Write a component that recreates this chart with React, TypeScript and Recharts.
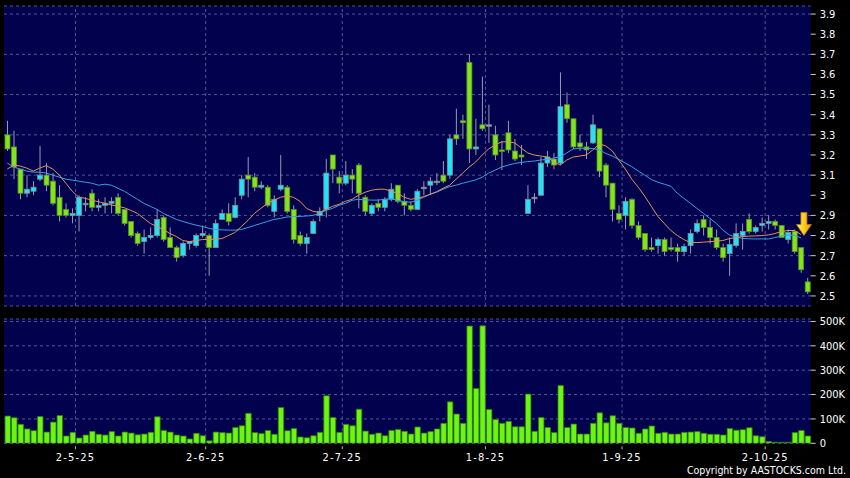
import { ComposedChart, Bar, Line, XAxis, YAxis, CartesianGrid, ReferenceLine, ReferenceDot } from "recharts"

// ---- data (one entry per trading day) ----

const openP = [
    3.30, 3.24, 3.13, 3.01, 3.02, 3.08, 3.10, 3.07, 2.99, 2.93, 2.90, 2.90, 2.96, 3.01, 2.94, 2.95, 2.96, 2.99, 2.93, 2.87,
    2.81, 2.77, 2.79, 2.80, 2.89, 2.79, 2.74, 2.70, 2.76, 2.75, 2.80, 2.80, 2.74, 2.88, 2.91, 2.89, 3.00, 3.10, 3.09, 3.04,
    3.04, 2.92, 3.03, 3.04, 2.93, 2.80, 2.76, 2.81, 2.90, 2.93, 3.20, 3.09, 3.06, 3.10, 3.15, 2.99, 2.91, 2.96, 2.94, 2.98,
    3.05, 2.97, 2.95, 2.93, 3.04, 3.05, 3.07, 3.10, 3.10, 3.30, 3.37, 3.66, 3.23, 3.35, 3.35, 3.30, 3.225, 3.31, 3.22, 3.20,
    2.91, 2.99, 3.00, 3.16, 3.18, 3.16, 3.45, 3.38, 3.26, 3.24, 3.26, 3.33, 3.15, 3.06, 2.91, 2.90, 2.98, 2.85, 2.81, 2.74,
    2.75, 2.78, 2.74, 2.74, 2.72, 2.75, 2.82, 2.88, 2.84, 2.79, 2.74, 2.71, 2.75, 2.80, 2.88, 2.82, 2.85, 2.86, 2.87, 2.85,
    2.78, 2.82, 2.74, 2.57,
]
const highP = [
    3.37, 3.32, 3.13, 3.10, 3.07, 3.245, 3.16, 3.11, 3.05, 2.96, 2.935, 3.00, 2.99, 3.03, 2.98, 2.99, 2.99, 3.01, 2.93, 2.87,
    2.82, 2.83, 2.84, 2.93, 2.90, 2.84, 2.75, 2.77, 2.77, 2.81, 2.85, 2.81, 2.88, 2.93, 2.96, 2.99, 3.10, 3.19, 3.11, 3.07,
    3.05, 3.00, 3.20, 3.05, 2.95, 2.82, 2.81, 2.88, 2.94, 3.18, 3.20, 3.12, 3.17, 3.13, 3.16, 3.00, 2.96, 2.98, 2.99, 3.06,
    3.05, 3.01, 2.97, 3.03, 3.07, 3.09, 3.11, 3.17, 3.30, 3.43, 3.40, 3.70, 3.38, 3.59, 3.45, 3.345, 3.27, 3.37, 3.28, 3.25,
    3.05, 3.01, 3.19, 3.22, 3.21, 3.61, 3.51, 3.38, 3.30, 3.265, 3.40, 3.33, 3.16, 3.06, 2.95, 2.99, 2.985, 2.87, 2.81, 2.79,
    2.79, 2.79, 2.79, 2.76, 2.76, 2.83, 2.88, 2.90, 2.88, 2.83, 2.76, 2.79, 2.86, 2.86, 2.91, 2.85, 2.89, 2.90, 2.88, 2.85,
    2.83, 2.83, 2.74, 2.59,
]
const lowP = [
    3.22, 3.08, 2.98, 2.99, 3.00, 3.07, 3.02, 2.95, 2.87, 2.89, 2.86, 2.82, 2.92, 2.92, 2.92, 2.91, 2.91, 2.90, 2.85, 2.79,
    2.75, 2.71, 2.78, 2.79, 2.77, 2.74, 2.67, 2.69, 2.73, 2.74, 2.79, 2.60, 2.74, 2.88, 2.85, 2.885, 2.98, 2.99, 3.02, 3.03,
    2.94, 2.89, 3.02, 2.91, 2.76, 2.75, 2.71, 2.81, 2.87, 2.89, 3.06, 3.01, 3.05, 3.01, 2.935, 2.90, 2.90, 2.92, 2.92, 2.97,
    2.96, 2.90, 2.92, 2.93, 3.00, 3.00, 3.05, 3.06, 3.08, 3.25, 3.28, 3.16, 3.20, 3.32, 3.26, 3.175, 3.125, 3.21, 3.17, 3.15,
    2.91, 2.96, 3.00, 3.14, 3.13, 3.15, 3.36, 3.23, 3.22, 3.18, 3.255, 3.09, 2.99, 2.87, 2.86, 2.83, 2.835, 2.78, 2.72, 2.72,
    2.71, 2.70, 2.72, 2.67, 2.70, 2.71, 2.81, 2.80, 2.76, 2.73, 2.67, 2.60, 2.74, 2.73, 2.81, 2.81, 2.82, 2.83, 2.83, 2.79,
    2.76, 2.71, 2.615, 2.51,
]
const closeP = [
    3.23, 3.14, 3.01, 3.03, 3.04, 3.10, 3.05, 2.96, 2.90, 2.90, 2.91, 2.99, 2.96, 2.94, 2.95, 2.96, 2.97, 2.91, 2.86, 2.80,
    2.76, 2.79, 2.80, 2.88, 2.78, 2.74, 2.69, 2.76, 2.77, 2.80, 2.81, 2.74, 2.86, 2.91, 2.87, 2.95, 3.08, 3.08, 3.04, 3.05,
    2.95, 2.98, 3.05, 2.92, 2.78, 2.76, 2.79, 2.87, 2.92, 3.11, 3.13, 3.06, 3.10, 3.08, 3.01, 2.92, 2.95, 2.94, 2.98, 3.03,
    2.97, 2.95, 2.93, 3.02, 3.04, 3.07, 3.07, 3.07, 3.28, 3.28, 3.36, 3.23, 3.24, 3.33, 3.35, 3.20, 3.22, 3.225, 3.18, 3.19,
    2.98, 2.99, 3.16, 3.19, 3.15, 3.44, 3.38, 3.24, 3.24, 3.225, 3.35, 3.12, 3.05, 2.93, 2.88, 2.97, 2.85, 2.79, 2.73, 2.73,
    2.78, 2.72, 2.73, 2.72, 2.745, 2.81, 2.86, 2.84, 2.79, 2.74, 2.69, 2.755, 2.81, 2.82, 2.82, 2.84, 2.86, 2.87, 2.85, 2.79,
    2.815, 2.72, 2.63, 2.52,
]
// volume in thousands of shares
const volK = [
    112, 105, 78, 59, 52, 110, 46, 87, 114, 30, 45, 22, 34, 49, 37, 34, 48, 30, 46, 42,
    35, 38, 45, 109, 53, 46, 34, 30, 18, 41, 31, 10, 46, 44, 42, 65, 72, 123, 44, 40,
    53, 37, 147, 52, 61, 26, 23, 31, 45, 195, 106, 45, 78, 72, 140, 50, 37, 42, 31, 53,
    57, 49, 38, 67, 42, 48, 59, 82, 170, 120, 82, 481, 225, 482, 139, 98, 82, 90, 68, 68,
    202, 49, 106, 65, 44, 237, 65, 79, 38, 38, 82, 125, 84, 113, 82, 65, 63, 41, 59, 71,
    41, 45, 38, 38, 45, 46, 48, 41, 37, 37, 34, 61, 54, 56, 64, 31, 27, 7, 4, 4,
    4, 44, 53, 30,
]
// short moving average (orange)
const maShort = [
    3.13, 3.15, 3.145, 3.135, 3.12, 3.135, 3.147, 3.13, 3.10, 3.06, 3.02, 2.99, 2.985, 2.975, 2.968, 2.96, 2.952, 2.945, 2.938, 2.925,
    2.91, 2.885, 2.86, 2.845, 2.83, 2.81, 2.795, 2.775, 2.77, 2.775, 2.78, 2.781, 2.781, 2.785, 2.80, 2.815, 2.845, 2.875, 2.91, 2.935,
    2.96, 2.976, 2.99, 2.996, 2.99, 2.97, 2.935, 2.92, 2.915, 2.93, 2.945, 2.955, 2.97, 2.98, 3.00, 3.015, 3.025, 3.03, 3.03, 3.02,
    3.01, 2.99, 2.98, 2.985, 2.993, 3.005, 3.018, 3.035, 3.05, 3.08, 3.11, 3.14, 3.165, 3.20, 3.23, 3.25, 3.265, 3.266, 3.26, 3.235,
    3.21, 3.20, 3.195, 3.19, 3.165, 3.15, 3.175, 3.19, 3.195, 3.20, 3.225, 3.255, 3.245, 3.22, 3.175, 3.13, 3.08, 3.04, 2.995, 2.945,
    2.895, 2.86, 2.825, 2.80, 2.78, 2.765, 2.765, 2.767, 2.77, 2.772, 2.775, 2.785, 2.79, 2.795, 2.797, 2.798, 2.80, 2.803, 2.81, 2.82,
    2.825, 2.825, 2.805,
]
// long moving average (blue)
const maLong = [
    3.16, 3.14, 3.13, 3.12, 3.115, 3.115, 3.11, 3.10, 3.09, 3.08, 3.075, 3.07, 3.065, 3.06, 3.05, 3.055, 3.05, 3.035, 3.02, 3.00,
    2.98, 2.96, 2.945, 2.93, 2.91, 2.895, 2.88, 2.87, 2.86, 2.852, 2.845, 2.836, 2.83, 2.828, 2.827, 2.827, 2.83, 2.84, 2.85, 2.86,
    2.87, 2.88, 2.885, 2.892, 2.894, 2.895, 2.897, 2.90, 2.91, 2.925, 2.935, 2.95, 2.96, 2.975, 2.98, 2.977, 2.976, 2.976, 2.98, 2.983,
    2.975, 2.968, 2.965, 2.975, 2.99, 3.005, 3.015, 3.03, 3.043, 3.05, 3.06, 3.068, 3.076, 3.09, 3.11, 3.125, 3.14, 3.15, 3.158, 3.163,
    3.167, 3.17, 3.175, 3.178, 3.185, 3.191, 3.21, 3.23, 3.233, 3.233, 3.232, 3.225, 3.208, 3.195, 3.178, 3.16, 3.142, 3.12, 3.10, 3.078,
    3.065, 3.055, 3.045, 3.01, 2.985, 2.96, 2.935, 2.91, 2.885, 2.86, 2.827, 2.803, 2.792, 2.786, 2.784, 2.783, 2.783, 2.783, 2.79, 2.797,
    2.803, 2.80, 2.789,
]

// first trading day of each month (index) and its label
const monthStart = [11, 31, 52, 74, 95, 117]
const monthLabels = ["2-5-25", "2-6-25", "2-7-25", "1-8-25", "1-9-25", "2-10-25"]

const priceTicks = [2.5, 2.6, 2.7, 2.8, 2.9, 3.0, 3.1, 3.2, 3.3, 3.4, 3.5, 3.6, 3.7, 3.8, 3.9]
const volTicks = [0, 100000, 200000, 300000, 400000, 500000]

const data = openP.map((o, i) => ({
    i,
    open: o,
    high: highP[i],
    low: lowP[i],
    close: closeP[i],
    vol: volK[i] * 1000,
    maShort: maShort[i] ?? null,
    maLong: maLong[i] ?? null,
}))

// ------------------------------------------------------------------

const FONT = "'DejaVu Sans Condensed', 'Liberation Sans', Arial, sans-serif"
const PANEL = "#01014e"
const GRID = "#55559a"
const LIME = "#80e41e"
const CYAN = "#22e2f6"

function Candle(props: any) {
    const { x, y, width, height, payload } = props
    if (!payload) return null
    const { open, close, high, low } = payload
    const k = high > low ? height / (high - low) : 0
    const top = y + (high - Math.max(open, close)) * k
    const bot = y + (high - Math.min(open, close)) * k
    const up = close > open
    const flat = close === open
    const cx = x + width / 2
    return (
        <g>
            <line x1={cx} x2={cx} y1={y} y2={y + height} stroke="#9a9ab0" strokeWidth={1} />
            <rect
                x={x}
                y={top}
                width={width}
                height={Math.max(bot - top, 1.5)}
                fill={flat ? "#9aa0a8" : up ? CYAN : LIME}
                stroke={up || flat ? "#7c8e98" : "#5f8a26"}
                strokeWidth={0.8}
            />
        </g>
    )
}

function DownArrow(props: any) {
    const { cx, cy } = props
    if (cx == null || cy == null) return null
    const x = cx + 3
    return (
        <path
            d={`M${x - 3} ${cy - 23} h6 v12 h4.5 l-7.5 11 l-7.5 -11 h4.5 z`}
            fill="url(#arrowGrad)"
            stroke="#c07a00"
            strokeWidth={0.8}
        />
    )
}

function DateTick(props: any) {
    const { x, y, payload } = props
    const k = monthStart.indexOf(payload?.value)
    if (k < 0) return <g />
    const tx = x - (payload.offset ?? 3.25)
    return (
        <g>
            <line x1={tx} x2={tx} y1={y + 3} y2={y + 6} stroke="#bbbbbb" />
            <text x={tx} y={y + 18} textAnchor="middle" fill="#ffffff" fontSize={11} letterSpacing={1.2} fontFamily={FONT}>
                {monthLabels[k]}
            </text>
        </g>
    )
}

const fmtPrice = (v: number) => String(Math.round(v * 10) / 10)
const fmtVol = (v: number) => (v === 0 ? "0" : `${v / 1000}K`)

export default function App() {
    return (
        <div style={{ position: "absolute", left: 0, top: 0, width: 850, height: 478, background: "#000", fontFamily: FONT }}>
            {/* price panel */}
            <div style={{ position: "absolute", left: 0, top: 0 }}>
                <ComposedChart width={850} height={312} data={data} margin={{ top: 6, right: 0, bottom: 6, left: 4 }}>
                    <defs>
                        <linearGradient id="arrowGrad" x1="0" y1="0" x2="1" y2="0">
                            <stop offset="0%" stopColor="#fff27a" />
                            <stop offset="55%" stopColor="#ffc61a" />
                            <stop offset="100%" stopColor="#e89400" />
                        </linearGradient>
                    </defs>
                    <CartesianGrid fill={PANEL} stroke={GRID} strokeDasharray="3 3" vertical={false} />
                    <XAxis dataKey="i" hide />
                    <YAxis
                        orientation="right"
                        type="number"
                        domain={[2.45, 3.94]}
                        ticks={priceTicks}
                        allowDataOverflow
                        width={39.3}
                        axisLine={false}
                        tickLine={{ stroke: "#cccccc" }}
                        tickSize={5}
                        tickMargin={4}
                        tick={{ fill: "#ffffff", fontSize: 11, fontFamily: FONT, textAnchor: "start" }}
                        tickFormatter={fmtPrice}
                    />
                    {monthStart.map((m) => (
                        <ReferenceLine key={m} x={m} position="start" stroke={GRID} strokeDasharray="3 3" />
                    ))}
                    <Bar
                        dataKey={(d: any) => [d.low, d.high]}
                        barSize={5}
                        shape={(p: any) => <Candle {...p} />}
                        isAnimationActive={false}
                    />
                    <Line dataKey="maLong" stroke="#3a9ee6" strokeWidth={1} dot={false} activeDot={false} isAnimationActive={false} />
                    <Line dataKey="maShort" stroke="#e2905e" strokeWidth={1} dot={false} activeDot={false} isAnimationActive={false} />
                    <ReferenceDot x={122} y={2.8} r={0} shape={(p: any) => <DownArrow {...p} />} />
                </ComposedChart>
            </div>

            {/* volume panel */}
            <div style={{ position: "absolute", left: 0, top: 312 }}>
                <ComposedChart width={850} height={166} data={data} margin={{ top: 7, right: 0, bottom: 14.7, left: 4 }}>
                    <CartesianGrid fill={PANEL} stroke={GRID} strokeDasharray="3 3" vertical={false} />
                    <XAxis
                        dataKey="i"
                        interval={0}
                        height={20}
                        axisLine={false}
                        tickLine={false}
                        tickSize={0}
                        tickMargin={0}
                        tick={(p: any) => <DateTick {...p} />}
                    />
                    <YAxis
                        orientation="right"
                        type="number"
                        domain={[0, 510000]}
                        ticks={volTicks}
                        allowDataOverflow
                        width={39.3}
                        axisLine={false}
                        tickLine={{ stroke: "#cccccc" }}
                        tickSize={5}
                        tickMargin={4}
                        tick={{ fill: "#ffffff", fontSize: 11, fontFamily: FONT, textAnchor: "start" }}
                        tickFormatter={fmtVol}
                    />
                    {monthStart.map((m) => (
                        <ReferenceLine key={m} x={m} position="start" stroke={GRID} strokeDasharray="3 3" />
                    ))}
                    <Bar dataKey="vol" barSize={5.5} fill="#6cf514" stroke="#2f7a00" strokeWidth={0.8} isAnimationActive={false} />
                </ComposedChart>
            </div>

            <div
                style={{
                    position: "absolute",
                    right: 4,
                    top: 464,
                    color: "#ffffff",
                    fontSize: 10.5,
                    lineHeight: "12px",
                    whiteSpace: "nowrap",
                }}
            >
                Copyright by AASTOCKS.com Ltd.
            </div>
        </div>
    )
}
